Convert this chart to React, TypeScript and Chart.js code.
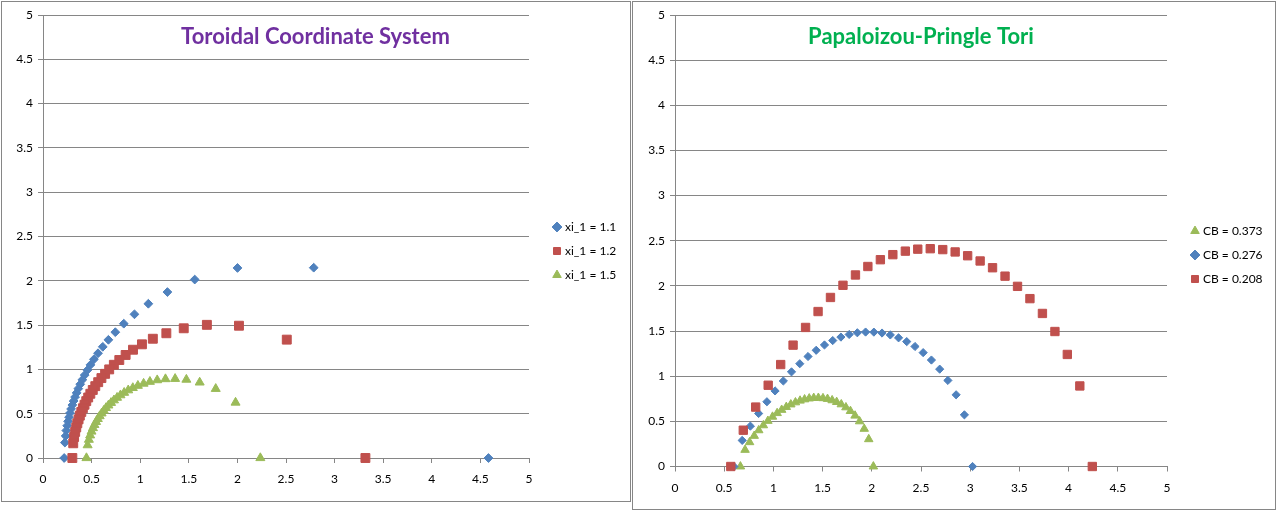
import React, { useEffect, useRef } from "react";
import { Chart, registerables } from "chart.js";

Chart.register(...registerables);

// ---------- shared axis ticks ----------
const axisTicks = [0, 0.5, 1, 1.5, 2, 2.5, 3, 3.5, 4, 4.5, 5];
const tickLabels = ["0", "0.5", "1", "1.5", "2", "2.5", "3", "3.5", "4", "4.5", "5"];

// ---------- left chart: Toroidal Coordinate System ----------
const leftTitle = "Toroidal Coordinate System";
const leftLabels = ["xi_1 = 1.1", "xi_1 = 1.2", "xi_1 = 1.5"];

const xi11X = [4.583, 2.785, 2.001, 1.561, 1.28, 1.084, 0.941, 0.831, 0.744, 0.673, 0.615, 0.566, 0.524, 0.488, 0.457, 0.429, 0.405, 0.383, 0.363, 0.346, 0.33, 0.315, 0.302, 0.289, 0.278, 0.268, 0.258, 0.249, 0.24, 0.233, 0.225, 0.218];
const xi11Y = [0, 2.148, 2.145, 2.014, 1.873, 1.741, 1.622, 1.516, 1.42, 1.334, 1.255, 1.182, 1.114, 1.051, 0.992, 0.936, 0.883, 0.832, 0.783, 0.735, 0.688, 0.643, 0.598, 0.553, 0.507, 0.461, 0.414, 0.364, 0.31, 0.249, 0.174, 0];

const xi12X = [3.317, 2.508, 2.016, 1.686, 1.448, 1.269, 1.13, 1.018, 0.926, 0.85, 0.785, 0.729, 0.681, 0.639, 0.601, 0.568, 0.538, 0.512, 0.487, 0.465, 0.445, 0.427, 0.41, 0.394, 0.379, 0.366, 0.353, 0.342, 0.331, 0.32, 0.311, 0.302];
const xi12Y = [0, 1.336, 1.493, 1.503, 1.464, 1.408, 1.346, 1.283, 1.222, 1.163, 1.106, 1.052, 1.0, 0.95, 0.902, 0.856, 0.811, 0.768, 0.725, 0.683, 0.642, 0.601, 0.561, 0.52, 0.478, 0.436, 0.392, 0.345, 0.295, 0.237, 0.166, 0];

const xi15X = [2.236, 1.981, 1.777, 1.612, 1.475, 1.359, 1.26, 1.175, 1.1, 1.035, 0.976, 0.924, 0.877, 0.835, 0.797, 0.762, 0.73, 0.7, 0.673, 0.648, 0.625, 0.603, 0.583, 0.564, 0.546, 0.529, 0.514, 0.499, 0.485, 0.472, 0.459, 0.447];
const xi15Y = [0, 0.626, 0.781, 0.853, 0.885, 0.894, 0.891, 0.879, 0.861, 0.84, 0.816, 0.791, 0.765, 0.737, 0.709, 0.681, 0.652, 0.623, 0.594, 0.565, 0.535, 0.504, 0.473, 0.441, 0.408, 0.374, 0.338, 0.299, 0.256, 0.207, 0.145, 0];

// ---------- right chart: Papaloizou-Pringle Tori ----------
const rightTitle = "Papaloizou-Pringle Tori";
const rightLabels = ["CB = 0.373", "CB = 0.276", "CB = 0.208"];

const cb373X = [0.665, 0.712, 0.758, 0.805, 0.851, 0.898, 0.944, 0.991, 1.038, 1.084, 1.131, 1.177, 1.224, 1.271, 1.317, 1.364, 1.41, 1.457, 1.504, 1.55, 1.597, 1.643, 1.69, 1.737, 1.783, 1.83, 1.876, 1.923, 1.969, 2.016];
const cb373Y = [0, 0.184, 0.269, 0.339, 0.401, 0.456, 0.505, 0.551, 0.591, 0.627, 0.659, 0.687, 0.71, 0.729, 0.743, 0.753, 0.759, 0.76, 0.756, 0.748, 0.733, 0.714, 0.688, 0.655, 0.614, 0.563, 0.5, 0.417, 0.302, 0];

const cb276X = [0.599, 0.683, 0.766, 0.85, 0.934, 1.017, 1.101, 1.184, 1.268, 1.352, 1.435, 1.519, 1.603, 1.686, 1.77, 1.853, 1.937, 2.021, 2.104, 2.188, 2.272, 2.355, 2.439, 2.522, 2.606, 2.69, 2.773, 2.857, 2.941, 3.024];
const cb276Y = [0, 0.289, 0.447, 0.587, 0.717, 0.837, 0.947, 1.048, 1.138, 1.218, 1.287, 1.346, 1.395, 1.433, 1.462, 1.481, 1.489, 1.488, 1.478, 1.457, 1.425, 1.383, 1.329, 1.261, 1.179, 1.078, 0.953, 0.794, 0.572, 0];

const cb208X = [0.567, 0.694, 0.82, 0.947, 1.074, 1.2, 1.327, 1.454, 1.58, 1.707, 1.834, 1.96, 2.087, 2.214, 2.341, 2.467, 2.594, 2.721, 2.847, 2.974, 3.101, 3.227, 3.354, 3.481, 3.607, 3.734, 3.861, 3.987, 4.114, 4.241];
const cb208Y = [0, 0.402, 0.658, 0.9, 1.129, 1.344, 1.54, 1.716, 1.872, 2.007, 2.121, 2.215, 2.29, 2.346, 2.385, 2.407, 2.412, 2.402, 2.376, 2.334, 2.276, 2.201, 2.108, 1.995, 1.859, 1.695, 1.495, 1.241, 0.892, 0];

// ---------- styling ----------
const BLUE = "#4F81BD";
const RED = "#C0504D";
const GREEN = "#9BBB59";
const GRID = "#868686";
const FONT = "Lato, 'Open Sans', sans-serif";

// place the legend block and the title at fixed spots of the chart box
const blockPlace = {
  id: "blockPlace",
  afterLayout(chart: any, _args: any, opts: any) {
    if (!opts) return;
    const lg = chart.legend;
    if (lg && opts.legendX != null) {
      lg.left = opts.legendX;
      lg.right = opts.legendX + opts.legendW;
      lg.top = opts.legendY;
      lg.bottom = chart.height;
      lg.width = opts.legendW;
      lg.height = chart.height - opts.legendY;
    }
    const tb = chart.titleBlock;
    if (tb && opts.titleL != null) {
      tb.left = opts.titleL;
      tb.right = opts.titleR;
      tb.width = opts.titleR - opts.titleL;
    }
  },
};

function series(label: string, xs: number[], ys: number[], color: string, style: string, radius: number, order: number) {
  return {
    label,
    data: xs.map((x, i) => ({ x, y: ys[i] })),
    pointStyle: style,
    pointRadius: radius,
    pointHoverRadius: radius,
    backgroundColor: color,
    borderColor: color,
    borderWidth: 1,
    showLine: false,
    clip: false,
    order,
  };
}

function scales(yWidth: number, xHeight: number) {
  const tickFont = { family: FONT, size: 12 };
  const setTicks = (scale: any) => {
    scale.ticks = axisTicks.map((v) => ({ value: v }));
  };
  const fmt = (_v: any, i: number) => tickLabels[i];
  return {
    x: {
      type: "linear" as const,
      min: 0,
      max: 5,
      afterBuildTicks: setTicks,
      afterFit: (s: any) => {
        s.height = xHeight;
      },
      grid: { drawOnChartArea: false, drawTicks: true, tickLength: 5, color: GRID, lineWidth: 1 },
      border: { display: true, color: GRID, width: 1 },
      ticks: { font: tickFont, color: "#000", padding: 9, maxRotation: 0, autoSkip: false, callback: fmt },
    },
    y: {
      type: "linear" as const,
      min: 0,
      max: 5,
      afterBuildTicks: setTicks,
      afterFit: (s: any) => {
        s.width = yWidth;
      },
      grid: { drawOnChartArea: true, drawTicks: true, tickLength: 5, color: GRID, lineWidth: 1 },
      border: { display: true, color: GRID, width: 1 },
      ticks: { font: tickFont, color: "#000", padding: 5, autoSkip: false, callback: fmt },
    },
  };
}

function legendOpts() {
  return {
    display: true,
    position: "right" as const,
    align: "start" as const,
    maxWidth: 1,
    labels: {
      usePointStyle: true,
      boxWidth: 4,
      boxHeight: 7,
      padding: 12,
      color: "#000",
      font: { family: FONT, size: 12 },
      sort: (a: any, b: any) => a.datasetIndex - b.datasetIndex,
    },
  };
}

function titleOpts(text: string, color: string) {
  return {
    display: true,
    text,
    color,
    fullSize: false,
    font: { family: FONT, size: 22, weight: "bold" as const, lineHeight: 1.2 },
    padding: { top: 8.8, bottom: -35.2 },
  };
}

function leftConfig(): any {
  return {
    type: "scatter",
    data: {
      datasets: [
        series(leftLabels[0], xi11X, xi11Y, BLUE, "rectRot", 4.4, 3),
        series(leftLabels[1], xi12X, xi12Y, RED, "rect", 6.3, 2),
        series(leftLabels[2], xi15X, xi15Y, GREEN, "triangle", 5.2, 1),
      ],
    },
    options: {
      responsive: false,
      animation: false,
      events: [],
      layout: { padding: { top: 13, right: 100, bottom: 0, left: 0 } },
      scales: scales(41, 43),
      plugins: {
        title: titleOpts(leftTitle, "#7030A0"),
        legend: legendOpts(),
        tooltip: { enabled: false },
        blockPlace: { legendX: 541, legendY: 207, legendW: 86, titleL: 0, titleR: 627 },
      },
    },
    plugins: [blockPlace],
  };
}

function rightConfig(): any {
  return {
    type: "scatter",
    data: {
      datasets: [
        series(rightLabels[0], cb373X, cb373Y, GREEN, "triangle", 4.9, 3),
        series(rightLabels[1], cb276X, cb276Y, BLUE, "rectRot", 4.1, 2),
        series(rightLabels[2], cb208X, cb208Y, RED, "rect", 5.9, 1),
      ],
    },
    options: {
      responsive: false,
      animation: false,
      events: [],
      layout: { padding: { top: 13, right: 107, bottom: 0, left: 0 } },
      scales: scales(42, 42.5),
      plugins: {
        title: titleOpts(rightTitle, "#00B050"),
        legend: legendOpts(),
        tooltip: { enabled: false },
        blockPlace: { legendX: 548, legendY: 211, legendW: 92 },
      },
    },
    plugins: [blockPlace],
  };
}

function ChartBox(props: { left: number; top: number; width: number; height: number; build: () => any }) {
  const { left, top, width, height, build } = props;
  const ref = useRef<HTMLCanvasElement | null>(null);
  useEffect(() => {
    if (!ref.current) return;
    const chart = new Chart(ref.current, build());
    return () => chart.destroy();
  }, []);
  const cw = width - 2;
  const ch = height - 2;
  return (
    <div
      style={{
        position: "absolute",
        left,
        top,
        width,
        height,
        boxSizing: "border-box",
        border: `1px solid ${GRID}`,
        background: "#fff",
      }}
    >
      <canvas ref={ref} width={cw} height={ch} style={{ display: "block", width: cw, height: ch }} />
    </div>
  );
}

export default function App() {
  return (
    <div style={{ position: "absolute", left: 0, top: 0, width: 1280, height: 516, background: "#fff", overflow: "hidden" }}>
      <ChartBox left={1} top={1} width={630} height={501} build={leftConfig} />
      <ChartBox left={632} top={1} width={644} height={509} build={rightConfig} />
    </div>
  );
}
